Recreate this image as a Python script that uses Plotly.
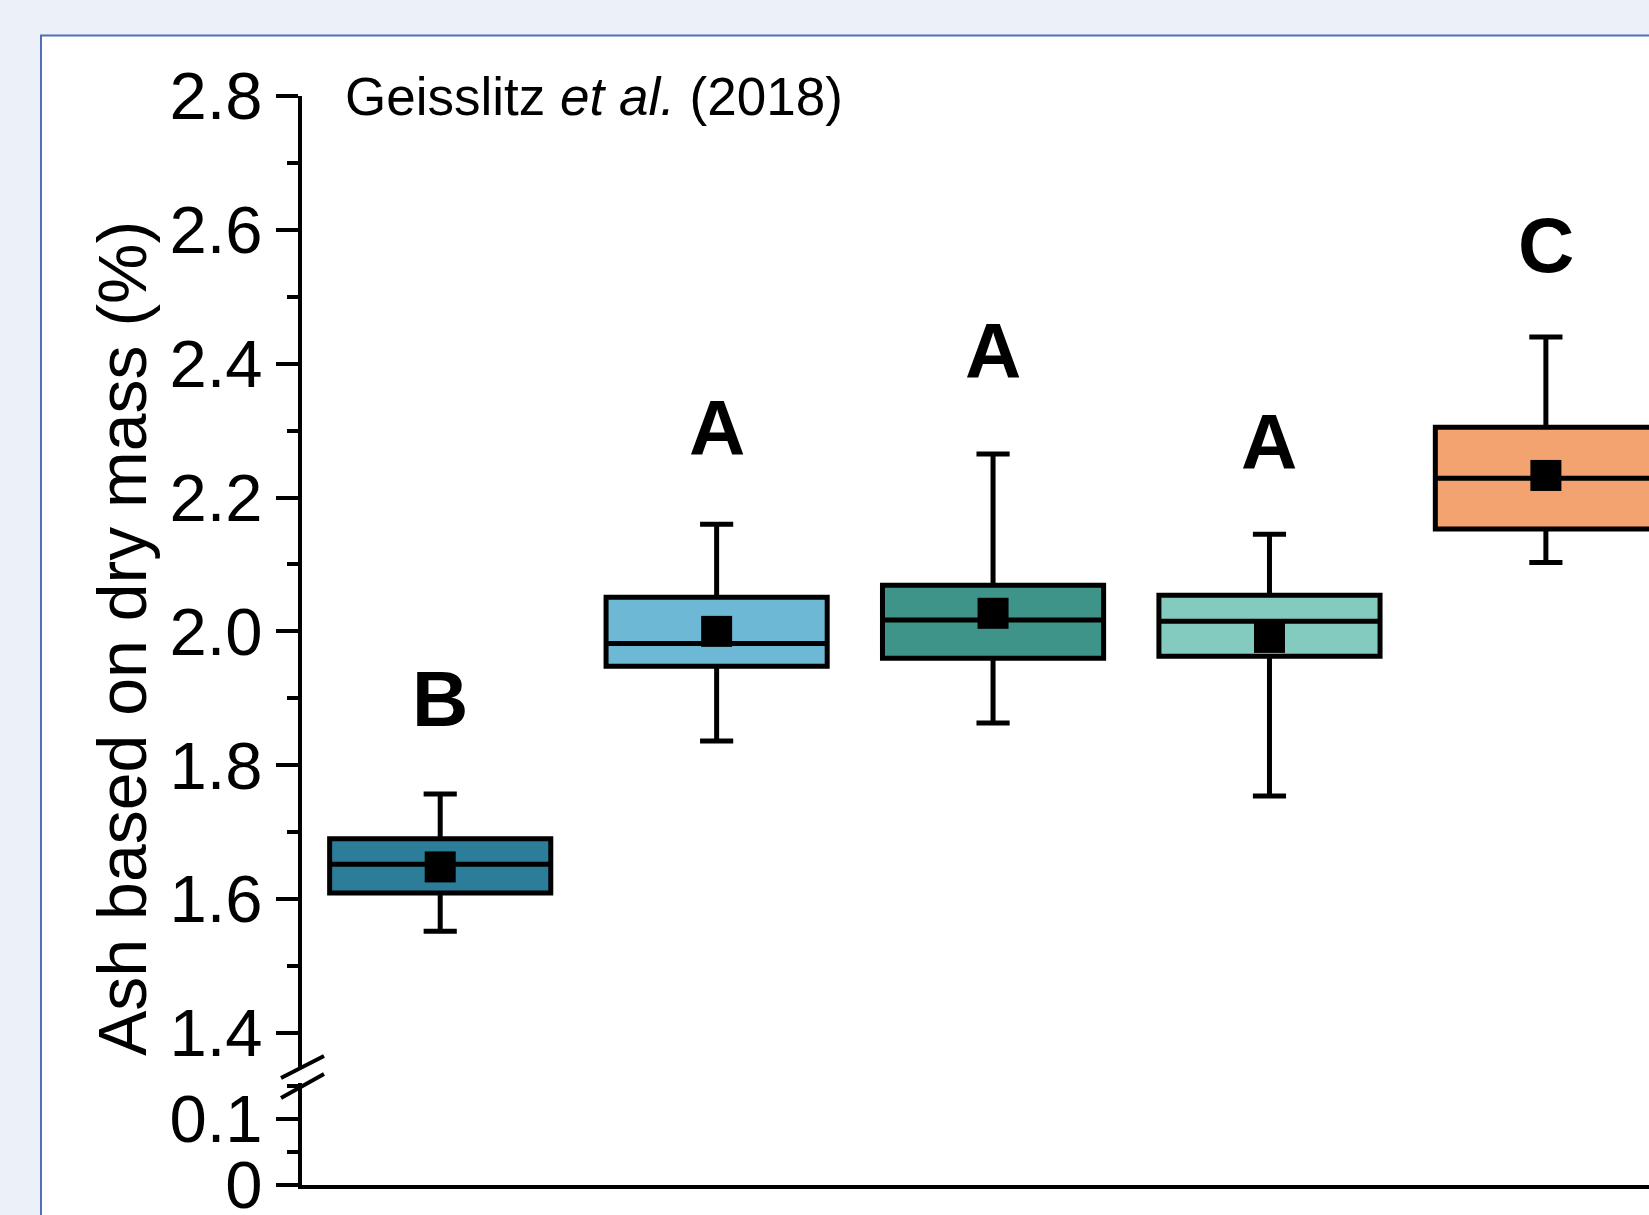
import plotly.graph_objects as go

# ---------------- data ----------------
positions = [0, 1, 2, 3, 4]
fill_colors = ["#2C7D99", "#6DB9D5", "#3E9488", "#84CBBF", "#F2A36F"]
upper_whisker = [1.757, 2.160, 2.265, 2.145, 2.440]
q3_values = [1.690, 2.051, 2.069, 2.054, 2.305]
median_values = [1.652, 1.982, 2.017, 2.015, 2.229]
q1_values = [1.609, 1.948, 1.960, 1.963, 2.153]
lower_whisker = [1.552, 1.836, 1.863, 1.754, 2.103]
mean_values = [1.648, 2.000, 2.027, 1.991, 2.233]
group_letters = ["B", "A", "A", "A", "C"]
letter_y = [1.899, 2.304, 2.419, 2.283, 2.578]

y_upper_ticks = [1.4, 1.6, 1.8, 2.0, 2.2, 2.4, 2.6, 2.8]
y_lower_ticks = [0, 0.1]

W, H = 1649, 1215


def fx(p):
    return p / W


def fy(p):
    return 1 - p / H


fig = go.Figure()

for i, pos in enumerate(positions):
    fig.add_trace(go.Box(
        x=[pos],
        q1=[q1_values[i]], median=[median_values[i]], q3=[q3_values[i]],
        lowerfence=[lower_whisker[i]], upperfence=[upper_whisker[i]],
        width=0.8, whiskerwidth=0.15,
        fillcolor=fill_colors[i],
        line=dict(color="black", width=5),
        boxpoints=False, showlegend=False, hoverinfo="skip",
        xaxis="x", yaxis="y",
    ))

fig.add_trace(go.Scatter(
    x=positions, y=mean_values, mode="markers",
    marker=dict(symbol="square", size=31, color="black", line=dict(width=0)),
    showlegend=False, xaxis="x", yaxis="y",
))

# empty helper trace so that the lower (broken) axis segment gets its subplot
fig.add_trace(go.Scatter(
    x=[None], y=[None], mode="markers", showlegend=False,
    hoverinfo="skip", xaxis="x", yaxis="y2",
))

font_family = "Arial, Liberation Sans, sans-serif"

annotations = []
for pos, letter, ly in zip(positions, group_letters, letter_y):
    annotations.append(dict(
        x=pos, y=ly, xref="x", yref="y", text=f"<b>{letter}</b>",
        showarrow=False, xanchor="center", yanchor="middle",
        font=dict(family=font_family, size=78, color="black"),
    ))

annotations.append(dict(
    x=fx(343), y=2.8, xref="paper", yref="y",
    text="Geisslitz <i>et al.</i> (2018)", showarrow=False,
    xanchor="left", yanchor="middle",
    font=dict(family=font_family, size=53, color="black"),
))

annotations.append(dict(
    x=fx(122), y=fy(639), xref="paper", yref="paper",
    text="Ash based on dry mass (%)", textangle=-90, showarrow=False,
    xanchor="center", yanchor="middle",
    font=dict(family=font_family, size=68, color="black"),
))

shapes = [
    dict(type="rect", xref="paper", yref="paper",
         x0=fx(41), x1=1.3, y0=-0.3, y1=fy(35.5),
         fillcolor="white", line=dict(color="#4F6DB8", width=2), layer="below"),
    dict(type="line", xref="paper", yref="paper",
         x0=fx(281), y0=fy(1078), x1=fx(324), y1=fy(1056),
         line=dict(color="black", width=4)),
    dict(type="line", xref="paper", yref="paper",
         x0=fx(281), y0=fy(1098), x1=fx(324), y1=fy(1074),
         line=dict(color="black", width=4)),
]

axis_common = dict(
    showline=True, linewidth=4, linecolor="black",
    ticks="outside", ticklen=22, tickwidth=4, tickcolor="black",
    showgrid=False, zeroline=False, automargin=False,
    ticklabeloverflow="allow",
    tickfont=dict(family=font_family, size=67, color="black"),
)

fig.update_layout(
    width=W, height=H,
    margin=dict(l=0, r=0, t=0, b=0, pad=0),
    paper_bgcolor="#ECF0F8",
    plot_bgcolor="rgba(0,0,0,0)",
    boxmode="overlay",
    showlegend=False,
    xaxis=dict(
        domain=[fx(302), 1], range=[-0.5, 4.373], anchor="y2",
        showline=True, linewidth=4, linecolor="black", automargin=False,
        ticks="", showticklabels=False, showgrid=False, zeroline=False,
    ),
    yaxis=dict(
        domain=[fy(1067), fy(95.7)], range=[1.349, 2.8005], anchor="x",
        tickmode="array", tickvals=y_upper_ticks,
        ticktext=[f"{v:.1f}" for v in y_upper_ticks],
        minor=dict(dtick=0.1, tick0=0, ticks="outside", ticklen=11,
                   tickwidth=4, tickcolor="black"),
        **axis_common,
    ),
    yaxis2=dict(
        domain=[fy(1184.5), fy(1083)], range=[0, 0.155], anchor="x",
        tickmode="array", tickvals=y_lower_ticks,
        ticktext=[f"{v:g}" for v in y_lower_ticks],
        minor=dict(dtick=0.05, tick0=0, ticks="outside", ticklen=11,
                   tickwidth=4, tickcolor="black"),
        **axis_common,
    ),
    annotations=annotations,
    shapes=shapes,
)

fig.write_html("out.html")
